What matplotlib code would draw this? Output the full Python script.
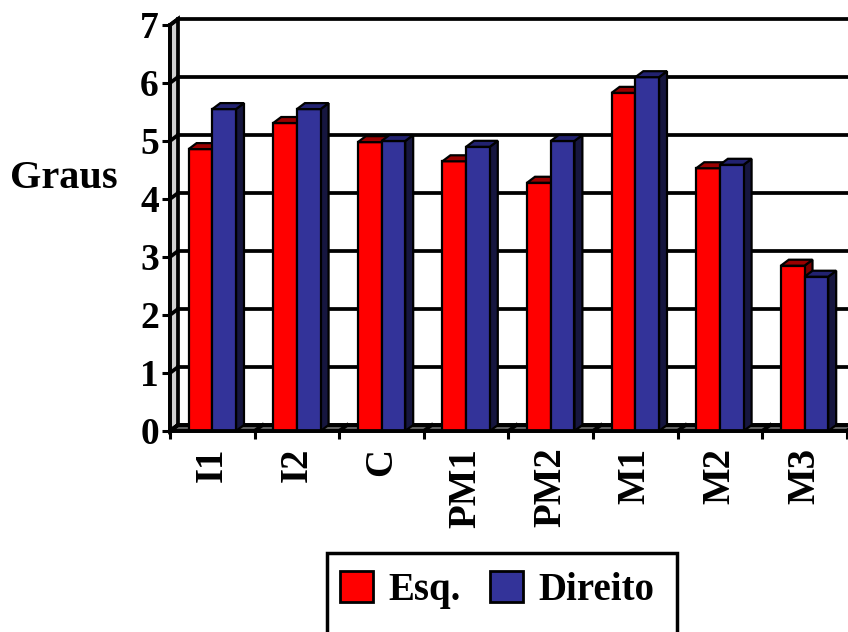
import matplotlib.pyplot as plt
from matplotlib.patches import Polygon, Patch, Rectangle

plt.rcParams['font.family'] = ['Liberation Serif', 'DejaVu Serif']
plt.rcParams['font.weight'] = 'bold'

categorias = ["I1", "I2", "C", "PM1", "PM2", "M1", "M2", "M3"]
esquerdo = [4.86, 5.31, 4.98, 4.65, 4.28, 5.83, 4.53, 2.85]
direito = [5.55, 5.55, 5.0, 4.90, 5.0, 6.10, 4.59, 2.66]
series = ["Esq.", "Direito"]
yticks = [0, 1, 2, 3, 4, 5, 6, 7]

vermelho, vermelho_topo, vermelho_lado = "#ff0000", "#9a0000", "#7a0000"
azul, azul_topo, azul_lado = "#333399", "#222270", "#16163f"

fig = plt.figure(figsize=(8.48, 6.32), dpi=100)
fig.patch.set_facecolor("white")
ax = fig.add_axes([170/848, 201/632, 678/848, 406/632])

xmin, xmax = -0.5, -0.5 + 678/84.6
ax.set_xlim(xmin, xmax)
ax.set_ylim(0, 7)

# profundidade do efeito 3D (em unidades dos dados)
ddx, ddy = 8/84.6, 6/58
w = 0.28
lw_grade = 2.7
lw_barra = 1.6

# parede esquerda
ax.add_patch(Polygon([(xmin, 0), (xmin + ddx, ddy), (xmin + ddx, 7 + ddy), (xmin, 7)],
                     closed=True, facecolor="#d0d0d0", edgecolor="black",
                     lw=lw_grade, clip_on=False, zorder=1))
# chão
ax.add_patch(Polygon([(xmin, 0), (xmax, 0), (xmax + ddx, ddy), (xmin + ddx, ddy)],
                     closed=True, facecolor="#606060", edgecolor="black",
                     lw=lw_grade, clip_on=False, zorder=1))
for k in range(len(categorias) + 1):
    b = xmin + k
    ax.plot([b, b + ddx], [0, ddy], color="black", lw=lw_grade, clip_on=False, zorder=1)

# linhas de grade na parede do fundo
for v in yticks:
    ax.plot([xmin + ddx, xmax + ddx], [v + ddy, v + ddy], color="black",
            lw=lw_grade, clip_on=False, zorder=2)
    ax.plot([xmin, xmin + ddx], [v, v + ddy], color="black", lw=lw_grade,
            clip_on=False, zorder=2)


def barra3d(x0, v, frente, topo, lado, z):
    ax.add_patch(Polygon([(x0 + w, 0), (x0 + w + ddx, ddy), (x0 + w + ddx, v + ddy), (x0 + w, v)],
                         closed=True, facecolor=lado, edgecolor="black", lw=lw_barra, zorder=z))
    ax.bar(x0, v, width=w, align="edge", color=frente, edgecolor="black",
           lw=lw_barra, zorder=z)
    ax.add_patch(Polygon([(x0, v), (x0 + w, v), (x0 + w + ddx, v + ddy), (x0 + ddx, v + ddy)],
                         closed=True, facecolor=topo, edgecolor="black", lw=lw_barra, zorder=z))


for i in range(len(categorias)):
    barra3d(i - w, esquerdo[i], vermelho, vermelho_topo, vermelho_lado, 3 + 2 * i)
    barra3d(i, direito[i], azul, azul_topo, azul_lado, 4 + 2 * i)

for s in ["top", "right"]:
    ax.spines[s].set_visible(False)
for s in ["left", "bottom"]:
    ax.spines[s].set_linewidth(lw_grade)
    ax.spines[s].set_zorder(30)

ax.set_yticks(yticks)
ax.set_yticklabels([str(t) for t in yticks], fontsize=27, fontweight="bold")
ax.tick_params(axis="y", direction="out", length=6, width=2.2, pad=2)

ax.set_xticks(range(len(categorias)))
ax.set_xticklabels(categorias, rotation=90, fontsize=28, fontweight="bold")
ax.tick_params(axis="x", which="major", length=0, pad=12)
ax.set_xticks([xmin + k for k in range(len(categorias) + 1)], minor=True)
ax.tick_params(axis="x", which="minor", direction="out", length=6, width=2.2)

ax.set_ylabel("Graus", rotation=0, fontsize=29, fontweight="bold", ha="center", va="center")
ax.yaxis.set_label_coords((64 - 170) / 678, (431 - 178) / 406)

# legenda com moldura própria (a parte de baixo sai da figura)
fig.patches.append(Rectangle((327/848, -8/632), 350/848, (632 - 553 + 8)/632,
                             transform=fig.transFigure, fill=False,
                             edgecolor="black", lw=2.5))
handles = [Patch(facecolor=vermelho, edgecolor="black", lw=2),
           Patch(facecolor=azul, edgecolor="black", lw=2)]
leg = fig.legend(handles, series, loc="center left", bbox_to_anchor=(340/848, 1 - 590/632),
                 ncol=2, frameon=False,
                 prop=dict(family="Liberation Serif", weight="bold", size=28),
                 handlelength=0.85, handleheight=0.85, handletextpad=0.39,
                 columnspacing=0.75, borderpad=0, borderaxespad=0)

fig.savefig("out.png", dpi=100, facecolor="white")
